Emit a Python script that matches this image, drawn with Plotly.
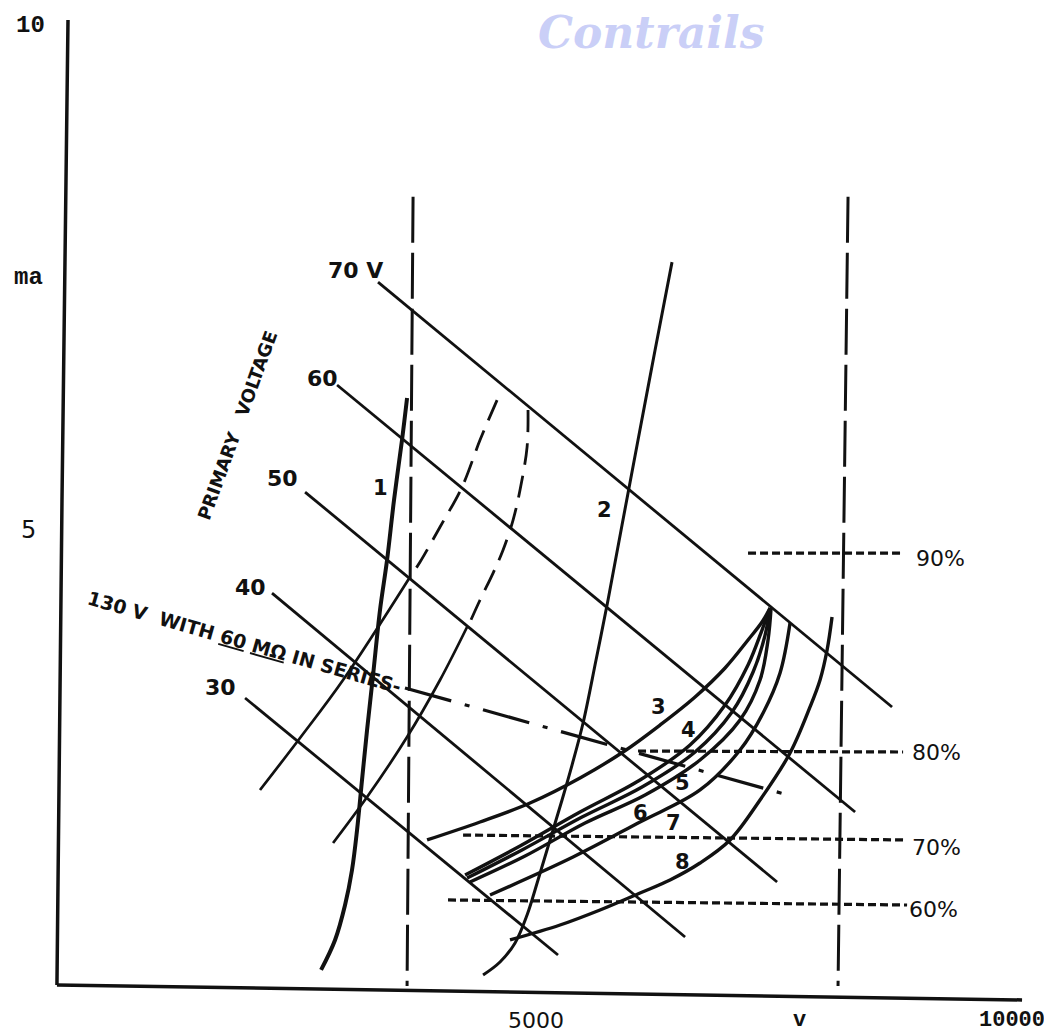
import plotly.graph_objects as go

INK = "#111111"

# ---------------- data (volts on x, milliamps on y) ----------------
# hand-drawn axes
axis_y_v = [84, 21, -32]
axis_y_ma = [10.05, 5.30, 0.495]
axis_x_v = [-32, 10101]
axis_x_ma = [0.495, 0.347]

# axis labels
x_tick_vals = [5000, 7760, 10000]
x_tick_text = ["5000", "v", "10000"]
y_tick_vals = [10, 7.5, 5]
y_tick_text = ["10", "ma", "5"]

# vertical long-dashed limit lines
limit_left_v = [3707, 3644]
limit_right_v = [8274, 8169]
limit_ma = [8.30, 0.485]

# primary voltage lines (straight)
pv_labels = ["70 V", "60", "50", "40", "30"]
pv_v0 = [3339, 2909, 2573, 2226, 1943]
pv_ma0 = [7.455, 6.436, 5.376, 4.376, 3.337]
pv_v1 = [8736, 8348, 7529, 6563, 5229]
pv_ma1 = [3.248, 2.208, 1.515, 0.970, 0.792]
pv_lab_v = [3098, 2751, 2331, 1995, 1680]
pv_lab_ma = [7.574, 6.505, 5.515, 4.436, 3.436]

# efficiency (percent) dotted lines
pct_labels = ["90%", "80%", "70%", "60%"]
pct_v0 = [7224, 6069, 4232, 4074]
pct_v1 = [8820, 8852, 8873, 8894]
pct_ma0 = [4.772, 2.812, 1.980, 1.337]
pct_ma1 = [4.772, 2.802, 1.931, 1.287]
pct_lab_v = [8967, 8925, 8925, 8894]
pct_lab_ma = [4.723, 2.802, 1.861, 1.238]

# curve 1 (bold)
c1_v = [3644, 3591, 3507, 3434, 3360, 3287, 3224, 3171, 3119, 3066, 2993, 2888, 2741]
c1_ma = [6.307, 5.891, 5.297, 4.703, 4.208, 3.564, 3.020, 2.525, 2.030, 1.634, 1.287, 0.941, 0.644]

# curve 2
c2_v = [6426, 6248, 6069, 5901, 5754, 5628, 5492, 5376, 5271, 5145, 5019, 4904, 4778, 4620, 4442]
c2_ma = [7.653, 6.782, 5.891, 5.050, 4.307, 3.713, 3.089, 2.673, 2.327, 1.931, 1.535, 1.188, 0.911, 0.723, 0.594]

# curve A: dashed upper part, solid lower part
ca_dash_v = [4589, 4410, 4221, 3990, 3780, 3696]
ca_dash_ma = [6.287, 5.891, 5.426, 5.030, 4.683, 4.564]
ca_solid_v = [3675, 2972, 2520, 2100]
ca_solid_ma = [4.535, 3.515, 2.941, 2.426]

# curve B: dashed upper part, solid lower part
cb_dash_v = [4914, 4904, 4830, 4757, 4652, 4547, 4410, 4305]
cb_dash_ma = [6.188, 5.822, 5.396, 5.099, 4.802, 4.574, 4.307, 4.089]
cb_solid_v = [4274, 3990, 3644, 3224, 2867]
cb_solid_ma = [4.040, 3.515, 2.950, 2.356, 1.901]

# 130 V with 60 MOhm in series (dash-dot)
series_v = [3622, 7644]
series_ma = [3.436, 2.376]

# fan of curves 3..8
c3_v = [3854, 4410, 4935, 5460, 5912, 6300, 6668, 6983, 7224, 7371, 7455]
c3_ma = [1.931, 2.109, 2.297, 2.545, 2.802, 3.069, 3.347, 3.634, 3.911, 4.089, 4.228]
c4_v = [4253, 4830, 5460, 6090, 6615, 6983, 7224, 7371, 7455]
c4_ma = [1.584, 1.871, 2.208, 2.525, 2.871, 3.267, 3.663, 4.010, 4.228]
c5_v = [4274, 4851, 5481, 6111, 6668, 7056, 7277, 7403, 7455]
c5_ma = [1.554, 1.832, 2.158, 2.455, 2.802, 3.198, 3.594, 3.960, 4.228]
c6_v = [4305, 4883, 5513, 6143, 6720, 7140, 7350, 7434, 7466]
c6_ma = [1.515, 1.772, 2.099, 2.376, 2.723, 3.119, 3.515, 3.911, 4.228]
c7_v = [4515, 5387, 6090, 6720, 7140, 7382, 7560, 7665]
c7_ma = [1.386, 1.762, 2.109, 2.426, 2.822, 3.188, 3.584, 4.079]
c8_v = [4725, 5250, 5670, 6090, 6405, 6720, 7035, 7350, 7665, 7875, 7980, 8054, 8106]
c8_ma = [0.941, 1.089, 1.238, 1.406, 1.535, 1.703, 1.931, 2.327, 2.792, 3.248, 3.515, 3.812, 4.139]

curve_labels = ["1", "2", "3", "4", "5", "6", "7", "8"]
curve_lab_v = [3360, 5712, 6279, 6594, 6531, 6090, 6437, 6531]
curve_lab_ma = [5.416, 5.198, 3.248, 3.020, 2.495, 2.198, 2.099, 1.713]

# ---------------- figure ----------------
fig = go.Figure()


def line(x, y, width=3, dash="solid", shape="linear"):
    fig.add_trace(go.Scatter(
        x=x, y=y, mode="lines",
        line=dict(color=INK, width=width, dash=dash, shape=shape, smoothing=1.0),
        hoverinfo="skip", showlegend=False))


# axes
line(axis_y_v, axis_y_ma, width=3.5)
line(axis_x_v, axis_x_ma, width=3.5)

# limit lines
line(limit_left_v, limit_ma, width=3, dash="46px,10px")
line(limit_right_v, limit_ma, width=3, dash="46px,10px")

# primary voltage lines
for i in range(len(pv_labels)):
    line([pv_v0[i], pv_v1[i]], [pv_ma0[i], pv_ma1[i]], width=2.8)

# percent lines
for i in range(len(pct_labels)):
    line([pct_v0[i], pct_v1[i]], [pct_ma0[i], pct_ma1[i]], width=3.2, dash="8px,4px")

# curves 1, 2
line(c1_v, c1_ma, width=4, shape="spline")
line(c2_v, c2_ma, width=3, shape="spline")

# dashed curves A, B
line(ca_dash_v, ca_dash_ma, width=2.8, dash="22px,11px", shape="spline")
line(ca_solid_v, ca_solid_ma, width=2.7, shape="spline")
line(cb_dash_v, cb_dash_ma, width=2.8, dash="22px,11px", shape="spline")
line(cb_solid_v, cb_solid_ma, width=2.7, shape="spline")

# series line
line(series_v, series_ma, width=3.2, dash="48px,14px,5px,14px")

# fan curves
for cv, cm in [(c3_v, c3_ma), (c4_v, c4_ma), (c5_v, c5_ma), (c6_v, c6_ma),
               (c7_v, c7_ma), (c8_v, c8_ma)]:
    line(cv, cm, width=3.4, shape="spline")

ann = []
BOLD = "DejaVu Sans"
for i, t in enumerate(pv_labels):
    ann.append(dict(x=pv_lab_v[i], y=pv_lab_ma[i], text="<b>%s</b>" % t, showarrow=False,
                    font=dict(family=BOLD, size=22, color=INK)))
for i, t in enumerate(pct_labels):
    ann.append(dict(x=pct_lab_v[i], y=pct_lab_ma[i], text=t, showarrow=False, xanchor="left",
                    font=dict(family="DejaVu Sans", size=22, color=INK)))
for i, t in enumerate(curve_labels):
    ann.append(dict(x=curve_lab_v[i], y=curve_lab_ma[i], text="<b>%s</b>" % t, showarrow=False,
                    font=dict(family=BOLD, size=21, color=INK)))

ann.append(dict(x=1858, y=6.04, text="<b>PRIMARY\u00a0\u00a0\u00a0VOLTAGE</b>", showarrow=False,
                textangle=-70, font=dict(family=BOLD, size=18, color=INK)))
ann.append(dict(x=1932, y=3.891,
                text="<b>130 V\u00a0\u00a0WITH <u>60</u> <u>M\u03a9</u> IN SERIES-</b>",
                showarrow=False, textangle=16, font=dict(family=BOLD, size=19, color=INK)))

# axis tick labels
for i, t in enumerate(x_tick_text):
    fam = "DejaVu Sans" if t == "5000" else "Liberation Mono"
    txt = t if t == "5000" else "<b>%s</b>" % t
    ann.append(dict(x=x_tick_vals[i], y=0, yref="paper", yanchor="top", text=txt, showarrow=False,
                    font=dict(family=fam, size=22, color=INK)))
y_shift = [-3, -5, -12]
for i, t in enumerate(y_tick_text):
    fam = "DejaVu Sans" if t == "5" else "Liberation Mono"
    txt = t if t == "5" else "<b>%s</b>" % t
    ann.append(dict(x=0, xref="paper", y=y_tick_vals[i], xanchor="right", xshift=y_shift[i],
                    text=txt, showarrow=False, font=dict(family=fam, size=24, color=INK)))

# watermark
ann.append(dict(x=0.617, y=0.982, xref="paper", yref="paper", xanchor="center", yanchor="middle",
                text="<b><i>Contrails</i></b>", showarrow=False,
                font=dict(family="DejaVu Serif", size=44, color="rgba(150,160,240,0.5)")))

# page body has an 8px margin; figure sized to fill the rest of the window
fig.update_layout(
    width=1044, height=1028,
    margin=dict(l=42, r=27, t=7, b=30),
    paper_bgcolor="white", plot_bgcolor="white",
    xaxis=dict(range=[-105, 10132], visible=False, fixedrange=True),
    yaxis=dict(range=[0.287, 10.10], visible=False, fixedrange=True),
    annotations=ann,
    showlegend=False,
)

fig.write_html("out.html")
